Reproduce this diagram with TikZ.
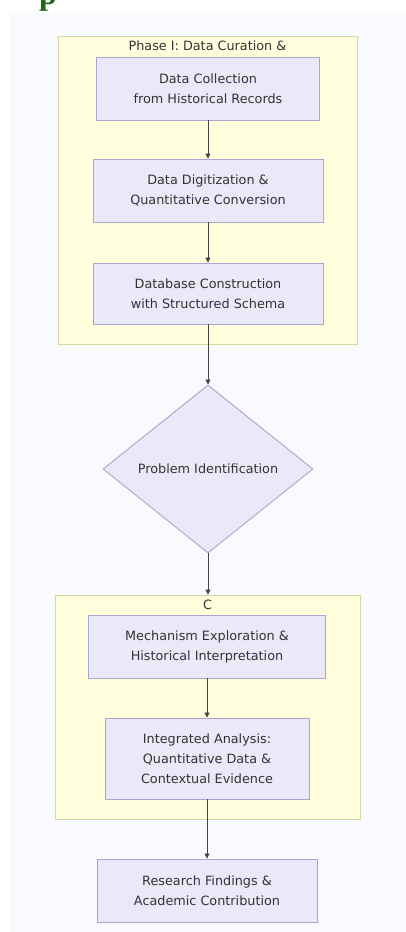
\documentclass[tikz,border=0pt]{standalone}
\usepackage{fontspec}
\setmainfont{DejaVu Sans}
\newfontfamily\headserif{Liberation Serif}
\usetikzlibrary{shapes.geometric,arrows.meta}
\definecolor{panelbg}{HTML}{F8FAFD}
\definecolor{clfill}{HTML}{FFFFDE}
\definecolor{clline}{HTML}{D6D6A0}
\definecolor{ndfill}{HTML}{E9E9FA}
\definecolor{ndline}{HTML}{ABA5CF}
\definecolor{txt}{HTML}{333333}
\definecolor{edge}{HTML}{444444}
\definecolor{headgreen}{HTML}{1B6B1B}
\tikzset{
  clusterbox/.style={draw=clline, fill=clfill, line width=0.9pt, inner sep=0pt},
  procbox/.style={draw=ndline, fill=ndfill, line width=0.9pt, align=center,
     text=txt, font=\fontsize{12.8}{20}\selectfont, inner sep=0pt},
  decbox/.style={diamond, draw=ndline, fill=ndfill, line width=0.9pt, align=center,
     text=txt, font=\fontsize{12.8}{20}\selectfont, inner sep=0pt},
  cltitle/.style={text=txt, font=\fontsize{12.8}{14}\selectfont, inner sep=0pt},
  flow/.style={draw=edge, line width=0.8pt, -{Triangle[length=5pt,width=5pt]}}
}
\begin{document}
\begin{tikzpicture}[x=1pt,y=-1pt]
\useasboundingbox (0,0) rectangle (406,932);
\fill[white] (0,0) rectangle (406,932);
\fill[panelbg] (9,13) rectangle (406,932);
\node[anchor=base west, inner sep=0pt, text=headgreen, font=\headserif\bfseries\fontsize{32}{32}\selectfont] (head) at (39,4) {p};
% clusters
\node[clusterbox, minimum width=299pt, minimum height=308pt] (c1) at (207.5,190) {};
\node[cltitle] (c1t) at (207.5,46) {Phase I: Data Curation \&};
\node[clusterbox, minimum width=305pt, minimum height=224pt] (c2) at (207.5,707) {};
\node[cltitle] (c2t) at (207.5,605) {C};
% nodes
\node[procbox, minimum width=223pt, minimum height=63pt] (n1) at (208,88.5) {Data Collection\\from Historical Records};
\node[procbox, minimum width=230pt, minimum height=63pt] (n2) at (208,190.5) {Data Digitization \&\\Quantitative Conversion};
\node[procbox, minimum width=230pt, minimum height=61pt] (n3) at (208,293.5) {Database Construction\\with Structured Schema};
\node[decbox, minimum width=210pt, minimum height=168pt] (d) at (208,469) {Problem Identification};
\node[procbox, minimum width=237pt, minimum height=63pt] (n4) at (207,646.5) {Mechanism Exploration \&\\Historical Interpretation};
\node[procbox, minimum width=204pt, minimum height=81pt] (n5) at (207,758.5) {Integrated Analysis:\\Quantitative Data \&\\Contextual Evidence};
\node[procbox, minimum width=220pt, minimum height=63pt] (n6) at (207,890.5) {Research Findings \&\\Academic Contribution};
% edges
\draw[flow] (n1.south) -- (n2.north);
\draw[flow] (n2.south) -- (n3.north);
\draw[flow] (n3.south) -- (d.north);
\draw[flow] (d.south) -- (d.south |- c2.north);
\draw[flow] (n4.south) -- (n5.north);
\draw[flow] (n5.south) -- (n6.north);
\end{tikzpicture}
\end{document}
